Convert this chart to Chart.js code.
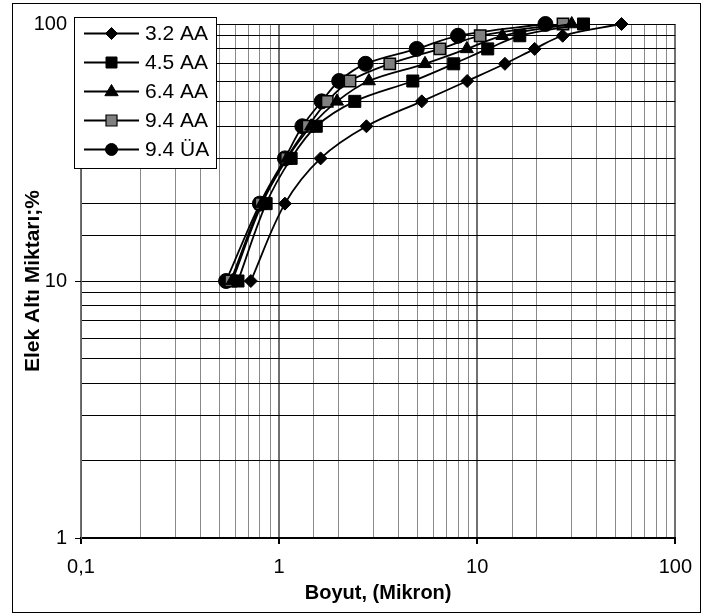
<!DOCTYPE html>
<html>
<head>
<meta charset="utf-8">
<script src="https://cdn.jsdelivr.net/npm/chart.js@4.4.1/dist/chart.umd.min.js"></script>
<style>
html,body{margin:0;padding:0;background:#fff;}
#wrap{position:relative;width:703px;height:616px;}
</style>
</head>
<body>
<div id="wrap"><canvas id="c" width="703" height="616"></canvas></div>
<script>
// Cumulative undersize (%) levels shared by all series
const yLevels = [10, 20, 30, 40, 50, 60, 70, 80, 90, 100];
// Particle size (micron) for each series at those levels
const s32AA = [0.72, 1.07, 1.62, 2.76, 5.25, 8.9, 13.8, 19.5, 27, 53.5];
const s45AA = [0.62, 0.86, 1.15, 1.54, 2.41, 4.73, 7.61, 11.3, 16.4, 34.4];
const s64AA = [0.58, 0.82, 1.10, 1.45, 1.96, 2.84, 5.45, 8.87, 13.4, 30];
const s94AA = [0.57, 0.81, 1.09, 1.40, 1.75, 2.28, 3.62, 6.48, 10.35, 27.1];
const s94UA = [0.54, 0.80, 1.07, 1.31, 1.64, 2.01, 2.73, 4.95, 8.0, 22.1];
const seriesNames = ['3.2 AA', '4.5 AA', '6.4 AA', '9.4 AA', '9.4 ÜA'];
const xTickLabels = {0.1: '0,1', 1: '1', 10: '10', 100: '100'};
const yTickLabels = {1: '1', 10: '10', 100: '100'};
const xTitle = 'Boyut, (Mikron)';
const yTitle = 'Elek Altı Miktarı;%';

const FONT = "'Liberation Sans', Arial, sans-serif";

function pts(xs) { return xs.map((x, i) => ({x: x, y: yLevels[i]})); }
function isMajor(v) { const l = Math.log10(v); return Math.abs(l - Math.round(l)) < 1e-6; }
function lbl(map, v) {
  for (const k in map) { if (Math.abs(Number(k) - v) < 1e-9 * Math.max(1, v)) return map[k]; }
  return '';
}

const styles = [
  {pointStyle: 'rectRot', radius: 6.5, bg: '#000', border: '#000', bw: 1},
  {pointStyle: 'rect', radius: 8.5, bg: '#000', border: '#000', bw: 1},
  {pointStyle: 'triangle', radius: 7.5, bg: '#000', border: '#000', bw: 1},
  {pointStyle: 'rect', radius: 8, bg: '#808080', border: '#000', bw: 1.5},
  {pointStyle: 'circle', radius: 7.5, bg: '#000', border: '#000', bw: 1}
];
const seriesData = [s32AA, s45AA, s64AA, s94AA, s94UA];

const datasets = seriesData.map((d, i) => ({
  label: seriesNames[i],
  data: pts(d),
  borderColor: '#000',
  borderWidth: 1.8,
  tension: 0.35,
  pointStyle: styles[i].pointStyle,
  pointRadius: styles[i].radius,
  pointHoverRadius: styles[i].radius,
  pointBackgroundColor: styles[i].bg,
  pointBorderColor: styles[i].border,
  pointBorderWidth: styles[i].bw,
  fill: false,
  clip: false
}));

function drawMarker(ctx, style, x, y, r, bg, border, bw) {
  ctx.save();
  ctx.fillStyle = bg; ctx.strokeStyle = border; ctx.lineWidth = bw;
  ctx.beginPath();
  if (style === 'rectRot') {
    ctx.moveTo(x - r, y); ctx.lineTo(x, y - r); ctx.lineTo(x + r, y); ctx.lineTo(x, y + r); ctx.closePath();
  } else if (style === 'rect') {
    ctx.rect(x - r, y - r, 2 * r, 2 * r);
  } else if (style === 'triangle') {
    ctx.moveTo(x, y - r); ctx.lineTo(x + r * 0.95, y + r * 0.6); ctx.lineTo(x - r * 0.95, y + r * 0.6); ctx.closePath();
  } else {
    ctx.arc(x, y, r, 0, Math.PI * 2);
  }
  ctx.fill(); ctx.stroke();
  ctx.restore();
}

const framePlugin = {
  id: 'frame',
  beforeDraw(chart) {
    const ctx = chart.ctx;
    ctx.save();
    ctx.fillStyle = '#fff';
    ctx.fillRect(0, 0, chart.width, chart.height);
    ctx.strokeStyle = '#000';
    ctx.lineWidth = 1;
    ctx.strokeRect(12.5, 3.5, 688, 609);
    ctx.restore();
  }
};

const legendPlugin = {
  id: 'boxLegend',
  afterDraw(chart) {
    const ctx = chart.ctx;
    ctx.save();
    ctx.fillStyle = '#fff';
    ctx.fillRect(74.5, 17.5, 142, 151);
    ctx.strokeStyle = '#000';
    ctx.lineWidth = 1;
    ctx.strokeRect(74.5, 17.5, 142, 151);
    const legendMarkers = [6, 5.5, 7, 5.5, 6];
    chart.data.datasets.forEach((ds, i) => {
      const y = 33.5 + 29 * i;
      ctx.strokeStyle = '#000';
      ctx.lineWidth = 1.8;
      ctx.beginPath(); ctx.moveTo(84, y); ctx.lineTo(139, y); ctx.stroke();
      drawMarker(ctx, styles[i].pointStyle, 111.5, y, legendMarkers[i], styles[i].bg, '#000', i === 3 ? 1.2 : 1);
      ctx.fillStyle = '#000';
      ctx.font = '21px ' + FONT;
      ctx.textBaseline = 'middle';
      ctx.textAlign = 'left';
      ctx.fillText(ds.label, 145, y + 1);
    });
    ctx.restore();
  }
};

new Chart(document.getElementById('c'), {
  type: 'line',
  data: {datasets: datasets},
  options: {
    responsive: false,
    devicePixelRatio: 1,
    animation: false,
    events: [],
    layout: {padding: {left: 0, right: 22, top: 24, bottom: 0}},
    plugins: {legend: {display: false}, tooltip: {enabled: false}},
    scales: {
      x: {
        type: 'logarithmic',
        min: 0.1, max: 100,
        afterFit(s) { s.height = 78; },
        border: {display: true, color: '#000', width: 2},
        grid: {
          color: c => (c.tick && isMajor(c.tick.value)) ? '#707070' : '#8a8a8a',
          lineWidth: c => (c.tick && isMajor(c.tick.value)) ? 2 : 1,
          tickColor: c => (c.tick && isMajor(c.tick.value)) ? '#000' : 'rgba(0,0,0,0)',
          tickLength: 6,
          drawTicks: true
        },
        ticks: {
          autoSkip: false, maxRotation: 0, minRotation: 0,
          color: '#000', padding: 11,
          font: {family: FONT, size: 20},
          callback: v => lbl(xTickLabels, v)
        },
        title: {
          display: true, text: xTitle, color: '#000',
          font: {family: FONT, size: 20, weight: 'bold'},
          padding: {top: 0, bottom: 11}
        }
      },
      y: {
        type: 'logarithmic',
        min: 1, max: 100,
        afterFit(s) { s.width = 81; },
        border: {display: true, color: '#606060', width: 1},
        grid: {
          color: '#000',
          lineWidth: 1,
          tickColor: c => (c.tick && isMajor(c.tick.value)) ? '#000' : 'rgba(0,0,0,0)',
          tickLength: 6,
          drawTicks: true
        },
        ticks: {
          autoSkip: false,
          color: '#000', padding: 8,
          font: {family: FONT, size: 20},
          callback: v => lbl(yTickLabels, v)
        },
        title: {
          display: true, text: yTitle, color: '#000',
          font: {family: FONT, size: 21, weight: 'bold'},
          padding: {top: 21, bottom: 0}
        }
      }
    }
  },
  plugins: [framePlugin, legendPlugin]
});
</script>
</body>
</html>
